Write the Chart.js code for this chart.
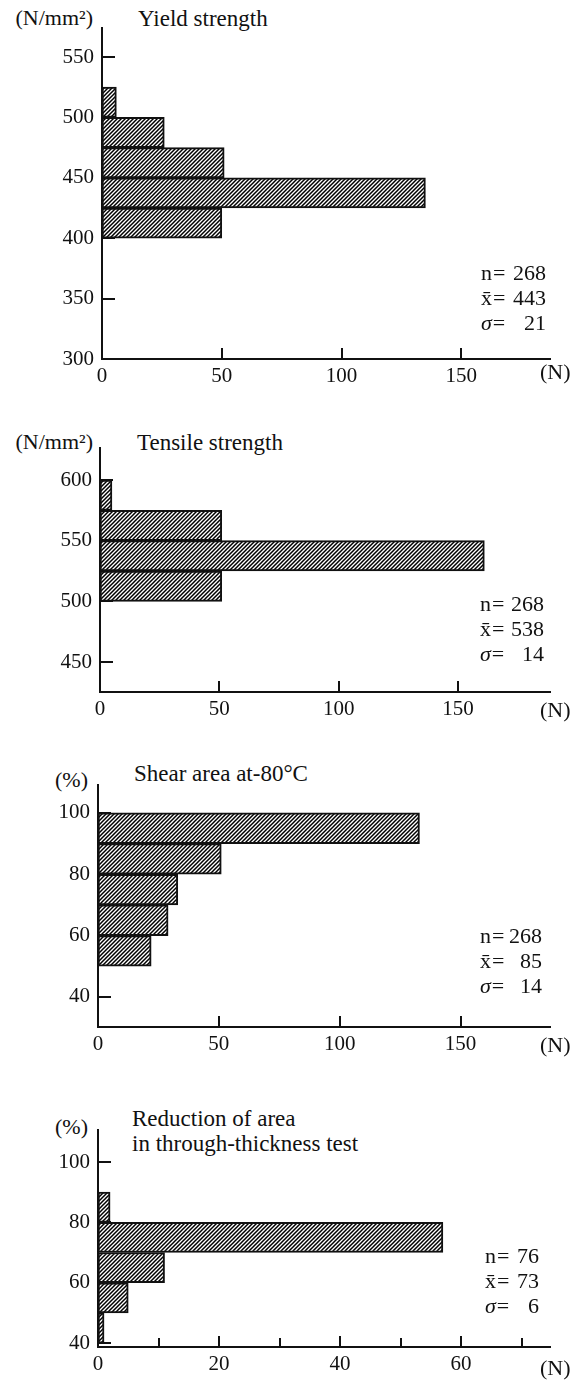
<!DOCTYPE html>
<html>
<head>
<meta charset="utf-8">
<script src="https://cdn.jsdelivr.net/npm/chart.js@4.4.1/dist/chart.umd.min.js"></script>
<style>
  html, body { margin: 0; padding: 0; background: #fff; }
  body {
    width: 578px; height: 1380px; position: relative; overflow: hidden;
    font-family: 'Liberation Serif', 'DejaVu Serif', serif; color: #111;
  }
  canvas { position: absolute; left: 0; }
  .txt { position: absolute; white-space: nowrap; line-height: 1; }
  .title { font-size: 23px; }
  .unit { font-size: 22px; }
  .stats { position: absolute; font-size: 22px; line-height: 25px; }
  .stats div { display: flex; justify-content: space-between; }
  .stats i { font-style: italic; }
  .stats b { font-weight: normal; display: inline-block; margin: 0 1px; }
</style>
</head>
<body>

<!-- Yield strength -->
<div class="txt unit" style="right:485px; top:7px;">(N/mm²)</div>
<div class="txt title" style="left:138px; top:6.5px;">Yield strength</div>
<canvas id="yieldChart" width="578" height="389" style="top:0;"></canvas>
<div class="stats" id="yieldStats" style="left:481px; top:259.5px; width:65px;"></div>
<div class="txt unit" style="left:540px; top:361px;">(N)</div>

<!-- Tensile strength -->
<div class="txt unit" style="right:485px; top:431px;">(N/mm²)</div>
<div class="txt title" style="left:137px; top:430.5px;">Tensile strength</div>
<canvas id="tensileChart" width="578" height="322" style="top:400px;"></canvas>
<div class="stats" id="tensileStats" style="left:480px; top:590.5px; width:64px;"></div>
<div class="txt unit" style="left:540px; top:699px;">(N)</div>

<!-- Shear area -->
<div class="txt unit" style="right:490px; top:769px;">(%)</div>
<div class="txt title" style="left:134px; top:761.5px;">Shear area at-80°C</div>
<canvas id="shearChart" width="578" height="317" style="top:740px;"></canvas>
<div class="stats" id="shearStats" style="left:480px; top:922.5px; width:62px;"></div>
<div class="txt unit" style="left:540px; top:1034px;">(N)</div>

<!-- Reduction of area -->
<div class="txt unit" style="right:490px; top:1116px;">(%)</div>
<div class="txt title" style="left:132px; top:1105.5px; line-height:25px;">Reduction of area<br>in through-thickness test</div>
<canvas id="reductionChart" width="578" height="297" style="top:1080px;"></canvas>
<div class="stats" id="reductionStats" style="left:485px; top:1242.5px; width:54px;"></div>
<div class="txt unit" style="left:540px; top:1357px;">(N)</div>

<script>
// ---- Données ----

// Yield strength (N/mm²), classes de 25
const yieldBins = [412.5, 437.5, 462.5, 487.5, 512.5];
const yieldCounts = [50, 135, 51, 26, 6];
const yieldTicks = [300, 350, 400, 450, 500, 550];
const yieldStats = [['n', '268'], ['x̄', '443'], ['σ', '21']];

// Tensile strength (N/mm²), classes de 25
const tensileBins = [512.5, 537.5, 562.5, 587.5];
const tensileCounts = [51, 161, 51, 5];
const tensileTicks = [450, 500, 550, 600];
const tensileStats = [['n', '268'], ['x̄', '538'], ['σ', '14']];

// Shear area at -80°C (%), classes de 10
const shearBins = [55, 65, 75, 85, 95];
const shearCounts = [22, 29, 33, 51, 133];
const shearTicks = [40, 60, 80, 100];
const shearStats = [['n', '268'], ['x̄', '85'], ['σ', '14']];

// Reduction of area (%), classes de 10
const reductionBins = [45, 55, 65, 75, 85];
const reductionCounts = [1, 5, 11, 57, 2];
const reductionTicks = [40, 60, 80, 100];
const reductionStats = [['n', '76'], ['x̄', '73'], ['σ', '6']];

// Axe des effectifs (N)
const countTicks = [0, 50, 100, 150];
const countMarks = [50, 100, 150];
const smallCountTicks = [0, 20, 40, 60];
const smallCountMarks = [10, 20, 30, 40, 50, 60, 70];

const INK = '#111';
const tickFont = { family: 'Liberation Serif', size: 21 };

// Motif hachuré pour les barres
function makeHatch() {
    const tile = document.createElement('canvas');
    tile.width = 4;
    tile.height = 4;
    const g = tile.getContext('2d');
    g.fillStyle = '#fff';
    g.fillRect(0, 0, 4, 4);
    g.strokeStyle = '#000';
    g.lineWidth = 1.5;
    g.beginPath();
    g.moveTo(0, 4); g.lineTo(4, 0);
    g.moveTo(-1, 1); g.lineTo(1, -1);
    g.moveTo(3, 5); g.lineTo(5, 3);
    g.stroke();
    return g.createPattern(tile, 'repeat');
}
const hatch = makeHatch();

// Petites graduations tournées vers l'intérieur
const innerTicks = {
    id: 'innerTicks',
    beforeDatasetsDraw(chart, args, opts) {
        const { ctx, chartArea, scales: { x, y } } = chart;
        ctx.save();
        ctx.strokeStyle = INK;
        ctx.lineWidth = 2;
        ctx.beginPath();
        (opts.yMarks || []).forEach(v => {
            const py = Math.round(y.getPixelForValue(v));
            ctx.moveTo(chartArea.left, py);
            ctx.lineTo(chartArea.left + 13, py);
        });
        (opts.xMarks || []).forEach(v => {
            const px = Math.round(x.getPixelForValue(v));
            const len = (opts.minorEvery && v % opts.minorEvery !== 0) ? 9 : 11;
            ctx.moveTo(px, chartArea.bottom);
            ctx.lineTo(px, chartArea.bottom - len);
        });
        ctx.stroke();
        ctx.restore();
    }
};

function fillStats(id, rows) {
    const box = document.getElementById(id);
    box.innerHTML = rows.map(([k, v]) => {
        const key = k === 'σ' ? '<i>σ</i>' : k;
        return `<div><span>${key}<b>=</b></span><span>${v}</span></div>`;
    }).join('');
}

function makeHistogram(canvasId, cfg) {
    const ctx = document.getElementById(canvasId);
    return new Chart(ctx, {
        type: 'bar',
        data: {
            datasets: [{
                data: cfg.bins.map((b, i) => ({ x: cfg.counts[i], y: b })),
                backgroundColor: hatch,
                borderColor: INK,
                borderWidth: 2,
                borderSkipped: false,
                barPercentage: 1,
                categoryPercentage: 1
            }]
        },
        options: {
            indexAxis: 'y',
            responsive: false,
            animation: false,
            layout: { padding: cfg.padding },
            plugins: {
                legend: { display: false },
                tooltip: { enabled: false },
                innerTicks: { yMarks: cfg.yMarks, xMarks: cfg.xMarks, minorEvery: cfg.minorEvery }
            },
            scales: {
                x: {
                    type: 'linear',
                    min: 0,
                    max: cfg.xMax,
                    grid: { display: false, drawTicks: false },
                    border: { display: true, color: INK, width: 2 },
                    ticks: { color: INK, font: tickFont, padding: 5, maxRotation: 0 },
                    afterBuildTicks: s => { s.ticks = cfg.xTicks.map(v => ({ value: v })); },
                    afterFit: s => { s.height = 30; }
                },
                y: {
                    type: 'linear',
                    offset: false,
                    min: cfg.yMin,
                    max: cfg.yMax,
                    grid: { display: false, drawTicks: false },
                    border: { display: true, color: INK, width: 2 },
                    ticks: { color: INK, font: tickFont, padding: 8 },
                    afterBuildTicks: s => { s.ticks = cfg.yTicks.map(v => ({ value: v })); },
                    afterFit: s => { s.width = cfg.axisWidth; }
                }
            }
        },
        plugins: [innerTicks]
    });
}

makeHistogram('yieldChart', {
    bins: yieldBins, counts: yieldCounts,
    yMin: 300, yMax: 574, yTicks: yieldTicks, yMarks: [350, 400, 450, 500, 550],
    xMax: 187, xTicks: countTicks, xMarks: countMarks,
    axisWidth: 102, padding: { top: 28, right: 28, bottom: 0, left: 0 }
});

makeHistogram('tensileChart', {
    bins: tensileBins, counts: tensileCounts,
    yMin: 425.3, yMax: 626.4, yTicks: tensileTicks, yMarks: tensileTicks,
    xMax: 188.5, xTicks: countTicks, xMarks: countMarks,
    axisWidth: 100, padding: { top: 48, right: 28, bottom: 0, left: 0 }
});

makeHistogram('shearChart', {
    bins: shearBins, counts: shearCounts,
    yMin: 30.2, yMax: 109.1, yTicks: shearTicks, yMarks: shearTicks,
    xMax: 187, xTicks: countTicks, xMarks: countMarks,
    axisWidth: 98, padding: { top: 45, right: 28, bottom: 0, left: 0 }
});

makeHistogram('reductionChart', {
    bins: reductionBins, counts: reductionCounts,
    yMin: 38.7, yMax: 110.6, yTicks: reductionTicks, yMarks: reductionTicks,
    xMax: 74.7, xTicks: smallCountTicks, xMarks: smallCountMarks, minorEvery: 20,
    axisWidth: 98, padding: { top: 50, right: 28, bottom: 0, left: 0 }
});

fillStats('yieldStats', yieldStats);
fillStats('tensileStats', tensileStats);
fillStats('shearStats', shearStats);
fillStats('reductionStats', reductionStats);
</script>
</body>
</html>
